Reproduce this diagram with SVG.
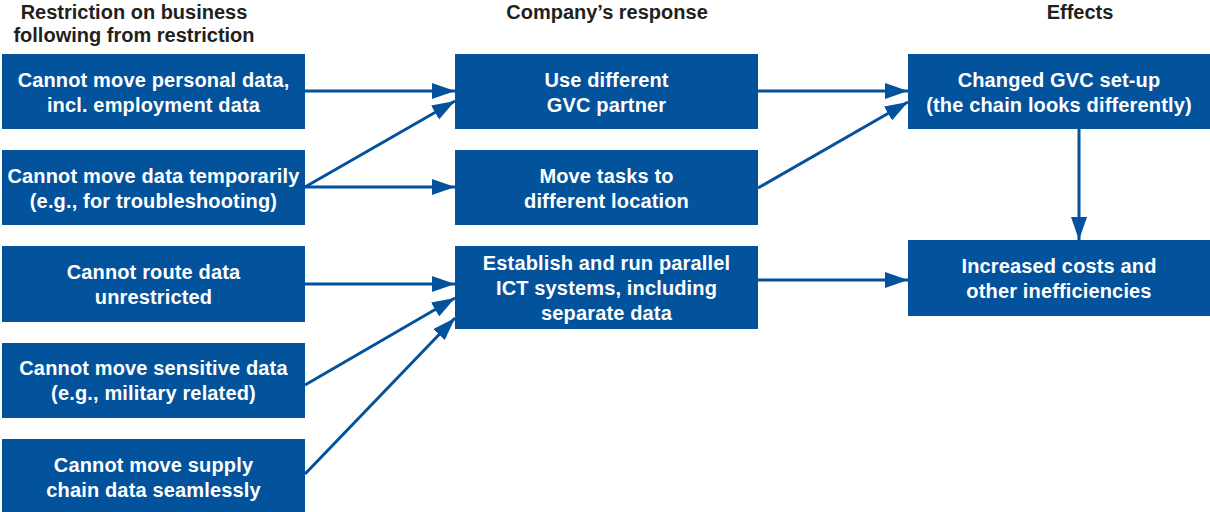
<svg xmlns="http://www.w3.org/2000/svg" width="1210" height="512" viewBox="0 0 1210 512">
<style>
.box{fill:#03529c}
.t{font-family:"Liberation Sans",Arial,sans-serif;font-weight:bold;font-size:20px;letter-spacing:0.15px;fill:#fff;text-anchor:middle}
.h{font-family:"Liberation Sans",Arial,sans-serif;font-weight:bold;font-size:20px;fill:#231f20;text-anchor:middle}
.c{stroke:#03529c;stroke-width:3;fill:none;marker-end:url(#ah)}
</style>
<defs>
<marker id="ah" markerUnits="userSpaceOnUse" markerWidth="24" markerHeight="18" refX="23" refY="8" orient="auto">
<path d="M0,0 L23,8 L0,16 Z" fill="#03529c"/>
</marker>
</defs>
<rect width="1210" height="512" fill="#fff"/>
<g id="headers">
<text class="h" x="134" y="19">Restriction on business</text>
<text class="h" x="134" y="42">following from restriction</text>
<text class="h" x="607" y="19">Company’s response</text>
<text class="h" x="1080" y="19">Effects</text>
</g>
<g id="connectors">
<line class="c" x1="305" y1="91" x2="455" y2="91"/>
<line class="c" x1="305" y1="187" x2="455" y2="101"/>
<line class="c" x1="305" y1="187" x2="455" y2="187"/>
<line class="c" x1="305" y1="284" x2="455" y2="284"/>
<line class="c" x1="305" y1="385" x2="455" y2="298"/>
<line class="c" x1="305" y1="474" x2="455" y2="318"/>
<line class="c" x1="758" y1="91" x2="908" y2="91"/>
<line class="c" x1="758" y1="188" x2="908" y2="102"/>
<line class="c" x1="758" y1="280" x2="908" y2="280"/>
<line class="c" x1="1079" y1="129" x2="1079" y2="240"/>
</g>
<g id="n1"><rect class="box" x="2" y="54" width="303" height="75"/><text class="t" x="153.5" y="87">Cannot move personal data,</text><text class="t" x="153.5" y="112">incl. employment data</text></g>
<g id="n2"><rect class="box" x="2" y="150" width="303" height="75"/><text class="t" x="153.5" y="183">Cannot move data temporarily</text><text class="t" x="153.5" y="208">(e.g., for troubleshooting)</text></g>
<g id="n3"><rect class="box" x="2" y="246" width="303" height="76"/><text class="t" x="153.5" y="279">Cannot route data</text><text class="t" x="153.5" y="304">unrestricted</text></g>
<g id="n4"><rect class="box" x="2" y="343" width="303" height="75"/><text class="t" x="153.5" y="375">Cannot move sensitive data</text><text class="t" x="153.5" y="400">(e.g., military related)</text></g>
<g id="n5"><rect class="box" x="2" y="439" width="303" height="73"/><text class="t" x="153.5" y="472">Cannot move supply</text><text class="t" x="153.5" y="497">chain data seamlessly</text></g>
<g id="m1"><rect class="box" x="455" y="54" width="303" height="75"/><text class="t" x="606.5" y="87">Use different</text><text class="t" x="606.5" y="112">GVC partner</text></g>
<g id="m2"><rect class="box" x="455" y="150" width="303" height="75"/><text class="t" x="606.5" y="183">Move tasks to</text><text class="t" x="606.5" y="208">different location</text></g>
<g id="m3"><rect class="box" x="455" y="246" width="303" height="83"/><text class="t" x="606.5" y="270">Establish and run parallel</text><text class="t" x="606.5" y="295">ICT systems, including</text><text class="t" x="606.5" y="320">separate data</text></g>
<g id="r1"><rect class="box" x="908" y="54" width="302" height="75"/><text class="t" x="1059" y="87">Changed GVC set-up</text><text class="t" x="1059" y="112">(the chain looks differently)</text></g>
<g id="r2"><rect class="box" x="908" y="240" width="302" height="76"/><text class="t" x="1059" y="273">Increased costs and</text><text class="t" x="1059" y="298">other inefficiencies</text></g>
</svg>
